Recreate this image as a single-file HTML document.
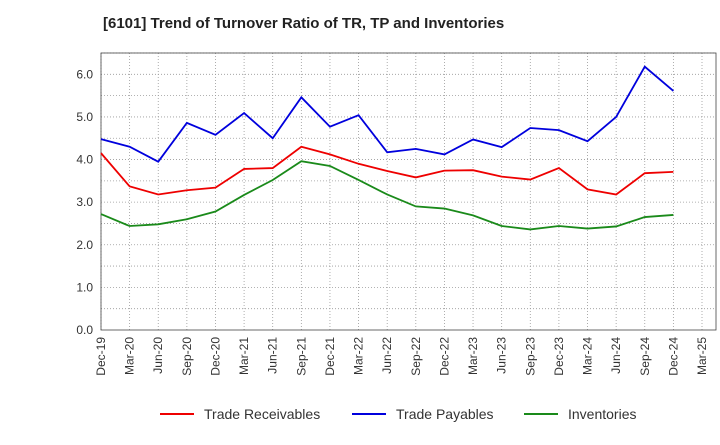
<!DOCTYPE html>
<html><head><meta charset="utf-8"><style>
body{margin:0;background:#fff;font-family:"Liberation Sans",sans-serif}
</style></head><body>
<svg id="c" width="720" height="440" xmlns="http://www.w3.org/2000/svg">
<text x="103" y="28" font-size="15" font-weight="bold" fill="#222">[6101]  Trend of Turnover Ratio of TR, TP and Inventories</text>
<g id="grid"></g><g id="axes"></g><g id="series"></g>
<g id="legend">
<line x1="160" y1="414" x2="194" y2="414" stroke="#e00" stroke-width="2"/>
<text x="204" y="419" font-size="14" fill="#333">Trade Receivables</text>
<line x1="352" y1="414" x2="386" y2="414" stroke="#00d" stroke-width="2"/>
<text x="396" y="419" font-size="14" fill="#333">Trade Payables</text>
<line x1="524" y1="414" x2="558" y2="414" stroke="#1a8a1a" stroke-width="2"/>
<text x="568" y="419" font-size="14" fill="#333">Inventories</text>
</g>
</svg>
<script>
const xLabels=["Dec-19","Mar-20","Jun-20","Sep-20","Dec-20","Mar-21","Jun-21","Sep-21","Dec-21","Mar-22","Jun-22","Sep-22","Dec-22","Mar-23","Jun-23","Sep-23","Dec-23","Mar-24","Jun-24","Sep-24","Dec-24","Mar-25"];
const yTicks=[0,1,2,3,4,5,6];
const receivables=[4.15,3.37,3.18,3.28,3.34,3.78,3.80,4.30,4.12,3.90,3.73,3.58,3.74,3.75,3.60,3.53,3.80,3.30,3.18,3.68,3.71];
const payables=[4.48,4.30,3.95,4.86,4.58,5.09,4.50,5.46,4.77,5.04,4.17,4.25,4.12,4.47,4.29,4.74,4.69,4.43,5.00,6.18,5.61];
const inventories=[2.72,2.44,2.48,2.60,2.78,3.17,3.52,3.96,3.85,3.52,3.18,2.90,2.85,2.69,2.44,2.36,2.44,2.38,2.43,2.65,2.70];
const L=101,R=716,T=53,B=330,YMAX=6.5,XR=702;
const x=i=>L+i*(XR-L)/(xLabels.length-1);
const y=v=>B-v*(B-T)/YMAX;
const NS="http://www.w3.org/2000/svg";
function mk(tag,attrs,parent){const e=document.createElementNS(NS,tag);for(const k in attrs)e.setAttribute(k,attrs[k]);document.getElementById(parent).appendChild(e);return e;}
xLabels.forEach((lab,i)=>{
  const g=mk("line",{x1:x(i),x2:x(i),y1:T,y2:B,stroke:"#999","stroke-dasharray":"1,2","stroke-width":0.8},"grid");
  
  
  const t=mk("text",{x:0,y:0,"font-size":12,fill:"#333","text-anchor":"end",transform:`translate(${x(i)+4},${B+7}) rotate(-90)`},"axes");
  t.textContent=lab;
  
  
});
for(let v=0.5;v<=YMAX;v+=0.5){
  const g=mk("line",{x1:L,x2:R,y1:y(v),y2:y(v),stroke:"#999","stroke-dasharray":"1,2","stroke-width":0.8},"grid");
  
  
}
yTicks.forEach(v=>{
  const t=mk("text",{x:L-8,y:y(v)+4,"font-size":12,fill:"#333","text-anchor":"end"},"axes");
  t.textContent=v.toFixed(1);
  
  
});
const fr=mk("rect",{x:L,y:T,width:R-L,height:B-T,fill:"none",stroke:"#444","stroke-width":0.8},"axes");


[[receivables,"#e00","trade-receivables-line"],[payables,"#00d","trade-payables-line"],[inventories,"#1a8a1a","inventories-line"]].forEach(([d,c,n])=>{
  const p=mk("polyline",{points:d.map((v,i)=>x(i)+","+y(v)).join(" "),fill:"none",stroke:c,"stroke-width":1.8},"series");
  
  
});
</script>
</body></html>
